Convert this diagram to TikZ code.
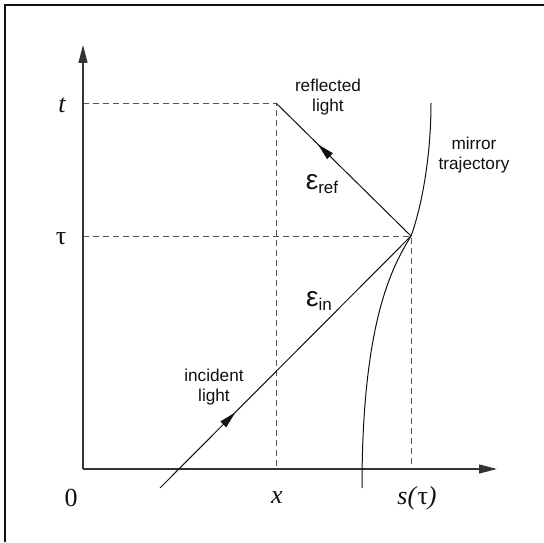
\documentclass[tikz,border=0pt]{standalone}
\usepackage{fontspec}
\setmainfont{Liberation Serif}
\setsansfont{Liberation Sans}
\usepackage{xcolor}
\usetikzlibrary{positioning,arrows.meta,calc,decorations.markings}
\definecolor{ink}{HTML}{111111}
\definecolor{axisgray}{HTML}{333333}
\definecolor{dashgray}{HTML}{555555}
\tikzset{
  axis/.style={axisgray, line width=1.2pt, -{Triangle[length=18pt, width=9pt]}},
  guide/.style={dashgray, line width=0.9pt, dash pattern=on 6pt off 4pt},
  ray/.style={ink, line width=1pt},
  lbl/.style={font=\sffamily\fontsize{17.2}{19.5}\selectfont, text=ink, align=center, inner sep=0pt},
  mlbl/.style={font=\fontsize{26}{28}\selectfont\itshape, text=ink, inner sep=0pt},
  eps/.style={font=\sffamily\fontsize{17}{19}\selectfont, text=ink, inner sep=0pt},
}
\newcommand{\epsl}[1]{{\fontsize{28}{28}\selectfont ε}\raisebox{-4pt}{#1}}
\newcommand{\tauup}{\textup{τ}}

\begin{document}
\begin{tikzpicture}[x=1pt, y=1pt]
\useasboundingbox (0,0) rectangle (544,542);
% frame
\draw[ink, line width=1.5pt] (5,0) -- (5,537) -- (544,537);
% key points
\coordinate (O) at (83,73);
\coordinate (ytop) at (83,497);
\coordinate (xend) at (497,73);
\coordinate (T) at (276,439);
\coordinate (R) at (411,306);
\coordinate (tl) at (83,439);
\coordinate (taul) at (83,306);
\coordinate (xb) at (276,73);
\coordinate (sb) at (411,73);
\coordinate (inc) at (160,54);
\coordinate (mb) at (362,54);
\coordinate (mt) at (431,439);
% axes
\draw[axis] (O) -- (ytop);
\draw[axis] (O) -- (xend);
% guides
\draw[guide] (tl) -- (T) -- (xb);
\draw[guide] (taul) -- (R) -- (sb);
% light rays
\draw[ray, postaction={decorate}, decoration={markings,
  mark=at position 0.30 with {\arrow{Triangle[length=17pt, width=8pt]}}}] (inc) -- (R);
\draw[ray, postaction={decorate}, decoration={markings,
  mark=at position 0.69 with {\arrow{Triangle[length=17pt, width=8pt]}}}] (R) -- (T);
% mirror
\draw[ray] (mb) .. controls (362,220) and (392,275) .. (R)
  .. controls (420,330) and (431,380) .. (mt);
% labels
\node[mlbl] (lt) at (62,437) {t};
\node[mlbl] (ltau) at (61,303) {\tauup};
\node[mlbl, font=\fontsize{26}{28}\selectfont] (l0) at (71,44) {0};
\node[mlbl] (lx) at (277,44) {x};
\node[mlbl] (ls) at (417,44) {s(\tauup)};
\node[lbl] (refl) at (328,445) {reflected\\light};
\node[lbl] (mirr) at (474,387) {mirror\\trajectory};
\node[lbl] (incl) at (214,155) {incident\\light};
\node[eps] (eref) at (322,358) {\epsl{ref}};
\node[eps] (ein) at (319,241) {\epsl{in}};
\end{tikzpicture}
\end{document}
